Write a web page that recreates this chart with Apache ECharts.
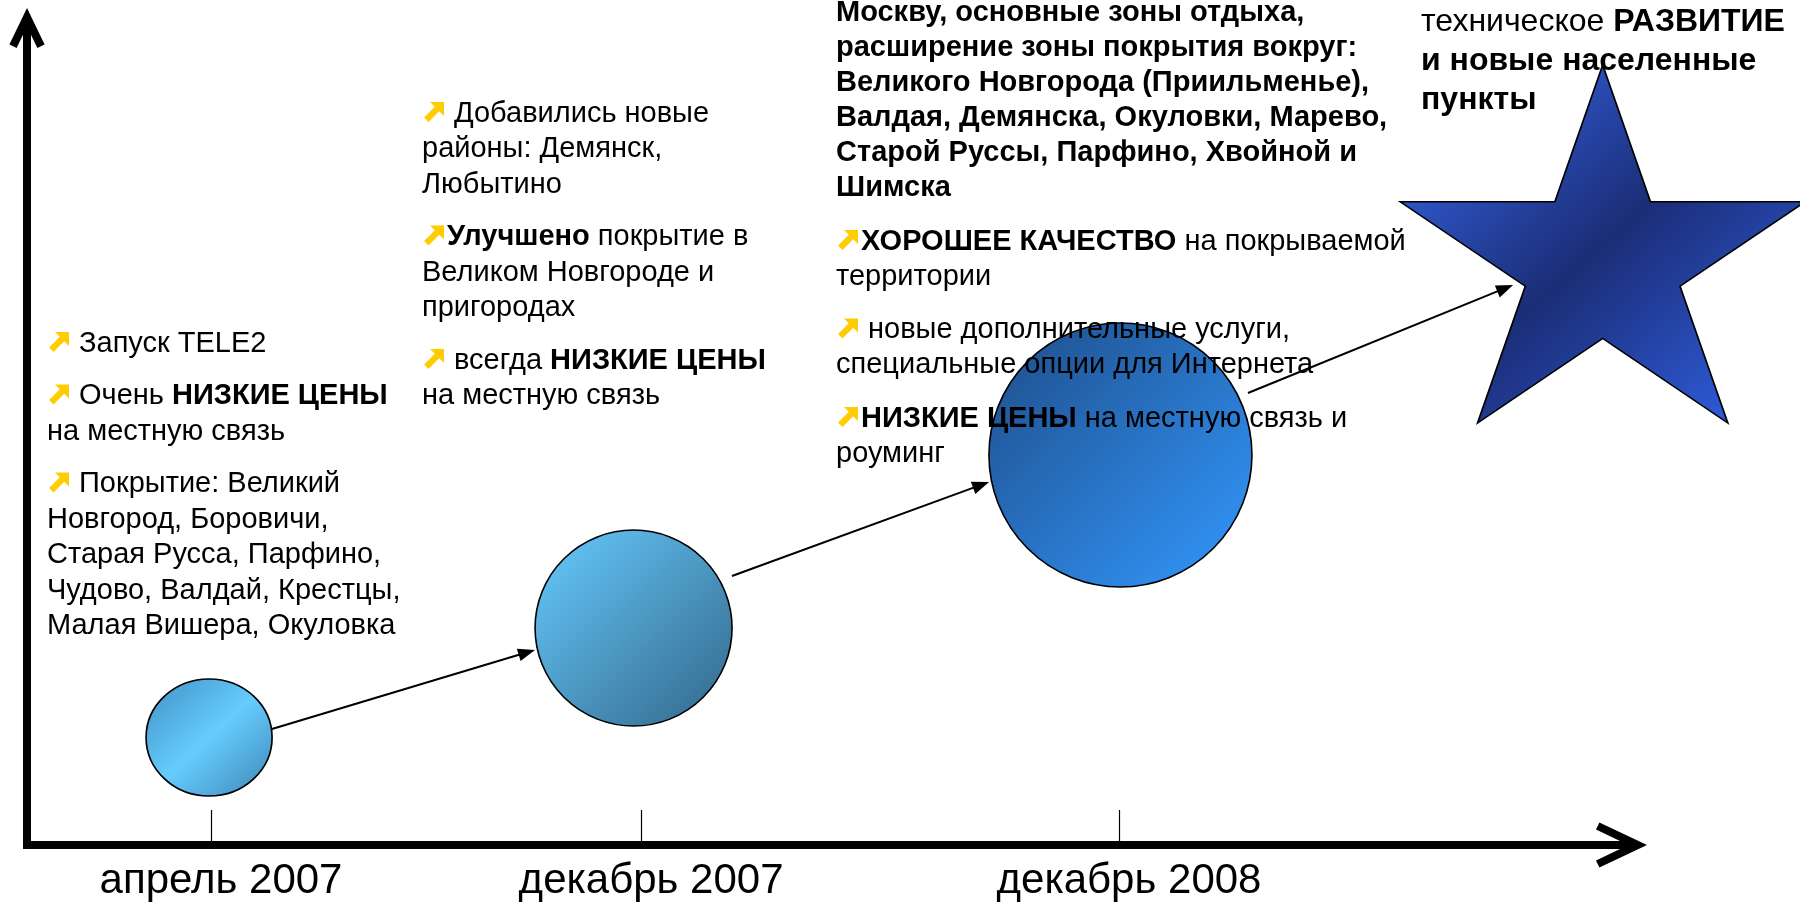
<!DOCTYPE html>
<html>
<head>
<meta charset="utf-8">
<title>TELE2 Новгород</title>
<script src="https://cdn.jsdelivr.net/npm/echarts@6/dist/echarts.min.js"></script>
<style>
  html, body { margin: 0; padding: 0; background: #fff; }
  #chart { width: 1800px; height: 902px; }
</style>
</head>
<body>
<div id="chart"></div>
<script>
// timeline
const periods = ["апрель 2007", "декабрь 2007", "декабрь 2008"];
const periodPos = [11.5, 38.38, 68.25];

// stage marks: 3 bubbles + the star (future)
const stageX = [11.38, 37.91, 68.34, 98.48];
const stageY = [13.16, 26.56, 47.74, 73.56];

// arrows between stages: [x1, y1, x2, y2]
const links = [
  [15.31, 14.2, 31.75, 23.87],
  [44.06, 32.93, 60.13, 44.43],
  [76.31, 55.32, 92.88, 68.54],
];

// notes, one array of lines per paragraph
const notesApr2007 = [
  ["{ind| }Запуск TELE2"],
  ["{ind| }Очень {b|НИЗКИЕ ЦЕНЫ}", "на местную связь"],
  ["{ind| }Покрытие: Великий", "Новгород, Боровичи,", "Старая Русса, Парфино,", "Чудово, Валдай, Крестцы,", "Малая Вишера, Окуловка"],
];
const notesDec2007 = [
  ["{ind| }Добавились новые", "районы: Демянск,", "Любытино"],
  ["{ind0| }{b|Улучшено} покрытие в", "Великом Новгороде и", "пригородах"],
  ["{ind| }всегда {b|НИЗКИЕ ЦЕНЫ}", "на местную связь"],
];
const notesDec2008 = [
  ["{b|Москву, основные зоны отдыха,}", "{b|расширение зоны покрытия вокруг:}", "{b|Великого Новгорода (Приильменье),}",
   "{b|Валдая, Демянска, Окуловки, Марево,}", "{b|Старой Руссы, Парфино, Хвойной и}", "{b|Шимска}"],
  ["{ind0| }{b|ХОРОШЕЕ КАЧЕСТВО} на покрываемой", "территории"],
  ["{ind| }новые дополнительные услуги,", "специальные опции для Интернета"],
  ["{ind0| }{b|НИЗКИЕ ЦЕНЫ} на местную связь и", "роуминг"],
];
const notesFuture = [
  ["техническое {b|РАЗВИТИЕ}", "{b|и новые населенные}", "{b|пункты}"],
];

const FONT = "'Liberation Sans', Arial, sans-serif";

const blocks = [
  { notes: notesApr2007, x: 47, y: 343.5, size: 29, lh: 35.5, gap: 17, z: 5 },
  { notes: notesDec2007, x: 422, y: 113.5, size: 29, lh: 35.5, gap: 17, z: 5 },
  { notes: notesDec2008, x: 836, y: 13, size: 29, lh: 35, gap: 18.5, z: 5 },
  { notes: notesFuture, x: 1421, y: 22, size: 32, lh: 39, gap: 0, z: 1 },
];

// yellow bullet arrow
const bulletPts = [[7, 0], [21, 0], [21, 14], [16.2, 9.2], [5.5, 19.9], [1.1, 15.5], [11.8, 4.8]];

function starPath() {
  const pts = [];
  for (let i = 0; i < 10; i++) {
    const r = i % 2 === 0 ? 1 : 0.381966;
    const a = (Math.PI * i) / 5;
    pts.push((r * Math.sin(a)).toFixed(4) + " " + (-r * Math.cos(a)).toFixed(4));
  }
  return "path://M" + pts.join(" L") + " Z";
}

// axis arrow heads (open chevrons with a stem), pointing up
const xArrow = "path://M0 -9.32 L22.61 38.28 L15.39 41.72 L0 9.32 L-15.39 41.72 L-22.61 38.28 Z M-4 4 L4 4 L4 41.72 L-4 41.72 Z";
const yArrow = "path://M0 -9.2 L17.6 27.26 L10.4 30.74 L0 9.2 L-10.4 30.74 L-17.6 27.26 Z M-4 4 L4 4 L4 30.74 L-4 30.74 Z";

function lin(stops) {
  return {
    type: "linear", x: 0, y: 0, x2: 1, y2: 1,
    colorStops: stops.map((c, i) => ({ offset: i / (stops.length - 1), color: c })),
  };
}

const stageStyle = [
  { symbol: "circle", size: [126, 117], color: lin(["#3f8fc2", "#66ccff", "#3c86b4"]) },
  { symbol: "circle", size: [197, 196], color: lin(["#66ccff", "#336688"]) },
  { symbol: "circle", size: [263, 264], color: lin(["#1e4c88", "#3399ff"]) },
  { symbol: starPath(), size: [405, 358], color: lin(["#3a6ef8", "#1b2d76", "#3366f0"]) },
];

const graphics = [];
blocks.forEach((b) => {
  const rich = {
    b: { fontFamily: FONT, fontSize: b.size, fontWeight: "bold", lineHeight: b.lh, color: "#000" },
    ind: { fontFamily: FONT, fontSize: b.size, lineHeight: b.lh, width: 32 },
    ind0: { fontFamily: FONT, fontSize: b.size, lineHeight: b.lh, width: 25 },
  };
  let cy = b.y;
  b.notes.forEach((par) => {
    graphics.push({
      type: "text", x: b.x, y: cy - b.lh / 2, z: b.z, silent: true,
      style: {
        text: par.join("\n"), rich: rich, fontFamily: FONT, fontSize: b.size,
        lineHeight: b.lh, fill: "#000", align: "left", verticalAlign: "top",
      },
    });
    if (par[0].indexOf("{ind") === 0) {
      graphics.push({
        type: "polygon", x: b.x + 1, y: cy - 11.5, z: b.z, silent: true,
        shape: { points: bulletPts }, style: { fill: "#ffcc00" },
      });
    }
    cy += par.length * b.lh + b.gap;
  });
});

const chart = echarts.init(document.getElementById("chart"));
chart.setOption({
  animation: false,
  backgroundColor: "#fff",
  grid: { left: 27, right: 173, top: 28, bottom: 57 },
  xAxis: {
    type: "value", min: 0, max: 100,
    splitLine: { show: false },
    axisLine: {
      show: true, symbol: ["none", xArrow], symbolSize: [45.22, 51.04], symbolOffset: [0, -5.5],
      lineStyle: { color: "#000", width: 8, cap: "square" },
    },
    axisTick: {
      show: true, inside: true, length: 35, customValues: periodPos,
      lineStyle: { color: "#000", width: 1.2 },
    },
    axisLabel: {
      show: true, customValues: periodPos, margin: 15, padding: [0, 0, 0, 20],
      color: "#000", fontFamily: FONT, fontSize: 42,
      formatter: (v) => {
        let k = 0;
        periodPos.forEach((p, i) => { if (Math.abs(p - v) < Math.abs(periodPos[k] - v)) k = i; });
        return periods[k];
      },
    },
  },
  yAxis: {
    type: "value", min: 0, max: 100,
    splitLine: { show: false },
    axisTick: { show: false },
    axisLabel: { show: false },
    axisLine: {
      show: true, symbol: ["none", yArrow], symbolSize: [35.2, 39.94],
      lineStyle: { color: "#000", width: 8, cap: "square" },
    },
  },
  series: [
    {
      type: "scatter", z: 2, silent: true, clip: false,
      data: stageX.map((x, i) => ({
        value: [x, stageY[i]],
        symbol: stageStyle[i].symbol,
        symbolSize: stageStyle[i].size,
        itemStyle: { color: stageStyle[i].color, borderColor: "#000", borderWidth: 1.6, opacity: 1 },
      })),
    },
    {
      type: "custom", z: 6, silent: true, clip: false,
      data: links,
      renderItem: (params, api) => {
        const p1 = api.coord([api.value(0), api.value(1)]);
        const p2 = api.coord([api.value(2), api.value(3)]);
        const dx = p2[0] - p1[0], dy = p2[1] - p1[1];
        const len = Math.hypot(dx, dy);
        const ux = dx / len, uy = dy / len;
        const hl = 17, hw = 6.5;
        const bx = p2[0] - ux * hl, by = p2[1] - uy * hl;
        return {
          type: "group",
          children: [
            { type: "line", shape: { x1: p1[0], y1: p1[1], x2: bx + ux * 2, y2: by + uy * 2 }, style: { stroke: "#000", lineWidth: 2 } },
            { type: "polygon", shape: { points: [p2, [bx - uy * hw, by + ux * hw], [bx + uy * hw, by - ux * hw]] }, style: { fill: "#000" } },
          ],
        };
      },
    },
  ],
  graphic: graphics,
});
</script>
</body>
</html>
